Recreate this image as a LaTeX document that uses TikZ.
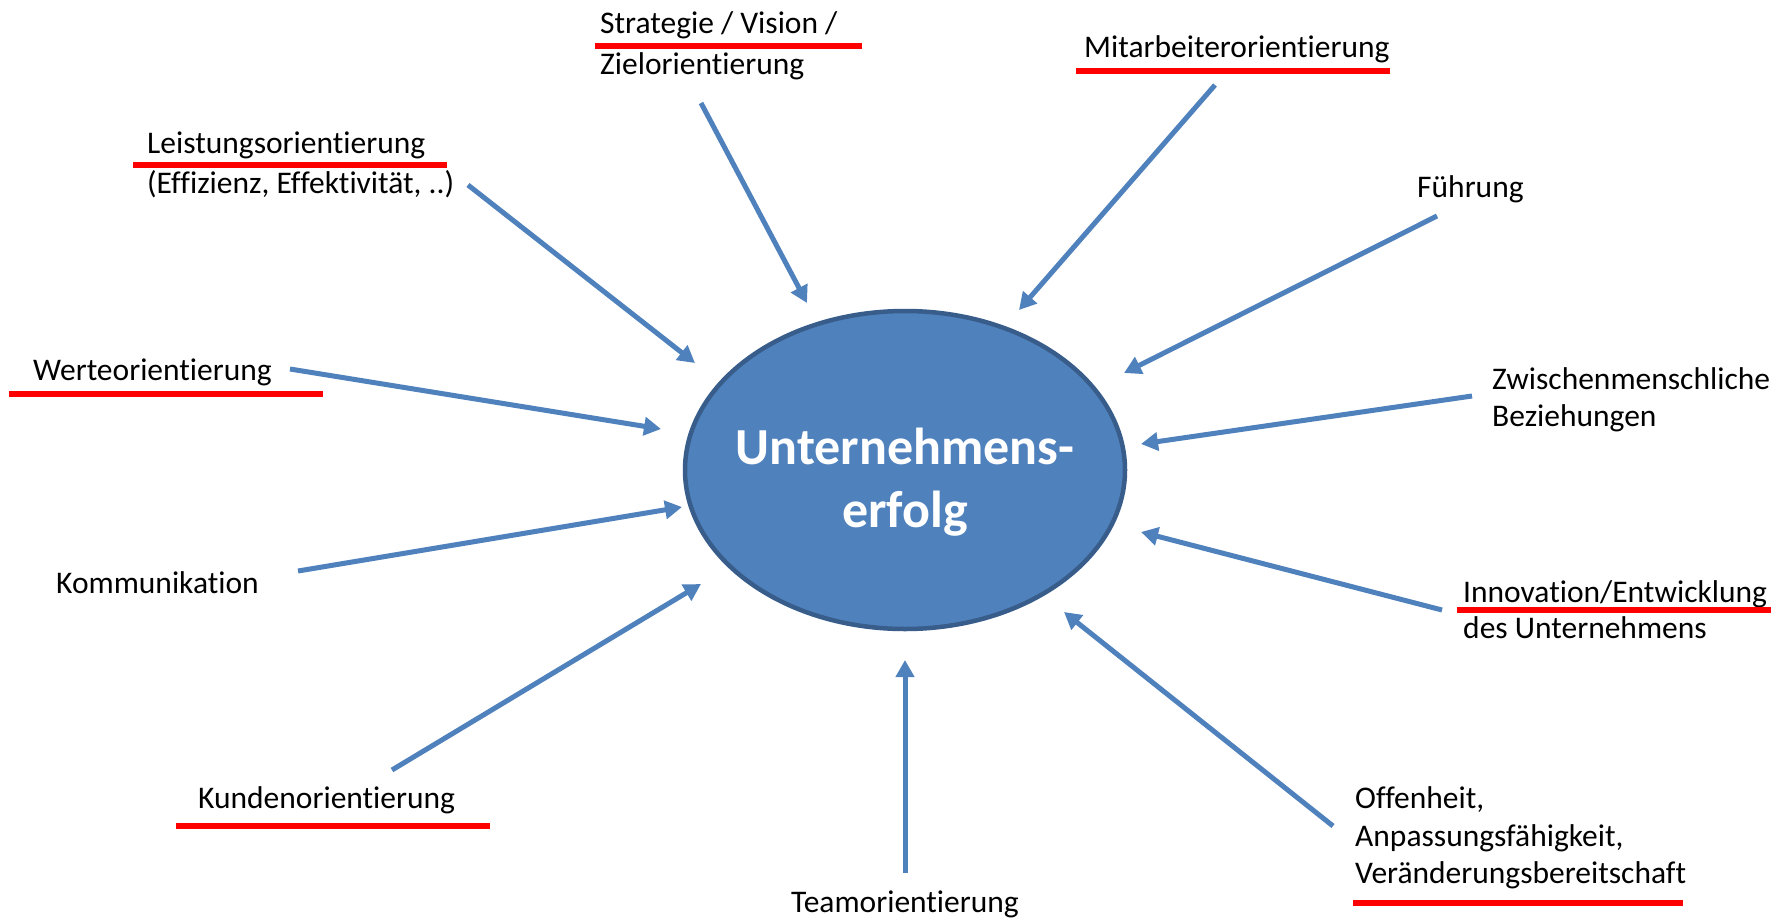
\documentclass[tikz,border=0pt]{standalone}
\usepackage{fontspec}
\setmainfont{Carlito}[Ligatures=NoCommon]
\usetikzlibrary{arrows.meta,shapes.geometric}
\definecolor{arrowblue}{HTML}{4F81BD}
\definecolor{ellfill}{HTML}{4F81BD}
\definecolor{elldraw}{HTML}{385D8A}
\begin{document}
\begin{tikzpicture}[x=1pt,y=-1pt,
  lbl/.style={anchor=base west,inner sep=0pt,font=\fontsize{31.5}{38}\selectfont},
  ctr/.style={anchor=base,inner sep=0pt,text=white,font=\fontsize{52}{62}\selectfont\bfseries},
  arr/.style={draw=arrowblue,line width=5pt,-{Triangle[length=17pt,width=18pt]}},
  redline/.style={draw=red,line width=5.5pt}]
\fill[white] (0,0) rectangle (1785,919);
\useasboundingbox (0,0) rectangle (1785,919);

% central ellipse
\node[ellipse,draw=elldraw,fill=ellfill,line width=4.5pt,minimum width=440pt,minimum height=318pt,inner sep=0pt] (ell) at (905,470) {};
\node[ctr] (c1) at (905,464) {Unternehmens-};
\node[ctr] (c2) at (905,527) {erfolg};

% labels
\node[lbl] (s1) at (600,33) {Strategie / Vision /};
\node[lbl] (s2) at (600,74) {Zielorientierung};
\node[lbl] (m1) at (1084,57) {Mitarbeiterorientierung};
\node[lbl] (f1) at (1417,197) {Führung};
\node[lbl] (z1) at (1492,389) {Zwischenmenschliche};
\node[lbl] (z2) at (1492,426) {Beziehungen};
\node[lbl] (i1) at (1463,602) {Innovation/Entwicklung};
\node[lbl] (i2) at (1463,638) {des Unternehmens};
\node[lbl] (o1) at (1355,808) {Offenheit,};
\node[lbl] (o2) at (1355,846) {Anpassungsfähigkeit,};
\node[lbl] (o3) at (1355,883) {Veränderungsbereitschaft};
\node[lbl,anchor=base] (t1) at (905,912) {Teamorientierung};
\node[lbl] (k1) at (198,808) {Kundenorientierung};
\node[lbl] (km) at (56,593) {Kommunikation};
\node[lbl] (w1) at (33,380) {Werteorientierung};
\node[lbl] (l1) at (147,153) {Leistungsorientierung};
\node[lbl] (l2) at (147,193) {(Effizienz, Effektivität, ..)};

% red underlines
\draw[redline] (595,46) -- (862,46);
\draw[redline] (1076,71) -- (1390,71);
\draw[redline] (1457,610) -- (1771,610);
\draw[redline] (1353,903) -- (1683,903);
\draw[redline] (176,826) -- (490,826);
\draw[redline] (9,394) -- (323,394);
\draw[redline] (133,165) -- (447,165);

% arrow coordinates
\coordinate (aS) at (701,103);  \coordinate (bS) at (807,303);
\coordinate (aM) at (1215,85);  \coordinate (bM) at (1019,310);
\coordinate (aF) at (1437,216); \coordinate (bF) at (1124,373);
\coordinate (aZ) at (1472,396); \coordinate (bZ) at (1141,444);
\coordinate (aI) at (1442,610); \coordinate (bI) at (1141,532);
\coordinate (aO) at (1333,826); \coordinate (bO) at (1064,612);
\coordinate (aT) at (905,873);  \coordinate (bT) at (905,660);
\coordinate (aK) at (392,770);  \coordinate (bK) at (701,584);
\coordinate (aC) at (298,571);  \coordinate (bC) at (682,507);
\coordinate (aW) at (290,369);  \coordinate (bW) at (661,429);
\coordinate (aL) at (468,185);  \coordinate (bL) at (695,363);

\draw[arr] (aS) -- (bS);
\draw[arr] (aM) -- (bM);
\draw[arr] (aF) -- (bF);
\draw[arr] (aZ) -- (bZ);
\draw[arr] (aI) -- (bI);
\draw[arr] (aO) -- (bO);
\draw[arr] (aT) -- (bT);
\draw[arr] (aK) -- (bK);
\draw[arr] (aC) -- (bC);
\draw[arr] (aW) -- (bW);
\draw[arr] (aL) -- (bL);
\end{tikzpicture}
\end{document}
